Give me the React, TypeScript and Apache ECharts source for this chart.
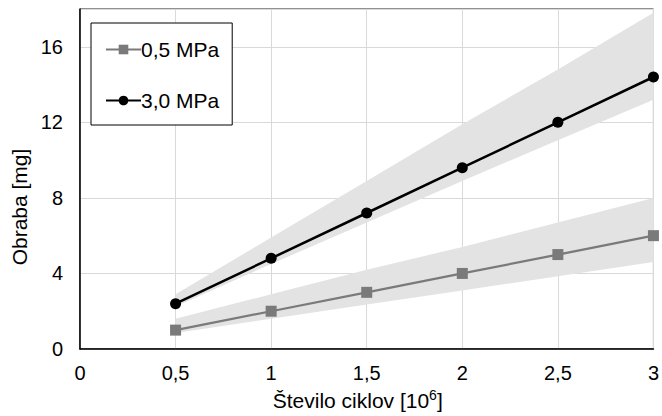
import React, { useEffect, useRef } from "react";
import * as echarts from "echarts";

const cycles = [0.5, 1, 1.5, 2, 2.5, 3];
const wear05 = [1, 2, 3, 4, 5, 6];
const wear30 = [2.4, 4.8, 7.2, 9.6, 12.0, 14.4];
const band05Low = [0.85, 1.6, 2.35, 3.1, 3.85, 4.6];
const band05High = [1.6, 2.9, 4.2, 5.4, 6.7, 8.0];
const band30Low = [2.25, 4.5, 6.7, 8.9, 11.05, 13.2];
const band30High = [2.9, 5.9, 8.9, 11.9, 14.8, 17.8];
const yTicks = [0, 4, 8, 12, 16];

const FONT = "'Liberation Sans', Arial, sans-serif";
const GRAY = "#7a7a7a";
const BAND = "#e3e3e3";

const pairs = (ys: number[]) => cycles.map((x, i) => [x, ys[i]]);

export default function App() {
  const ref = useRef<HTMLDivElement>(null);
  useEffect(() => {
    if (!ref.current) return;
    document.body.style.margin = "0";
    const chart = echarts.init(ref.current, null, { renderer: "svg" });
    const bandSeries = (lo: number[], hi: number[]) => ({
      type: "custom",
      silent: true,
      z: 1,
      data: cycles.map((x, i) => [x, lo[i], hi[i]]),
      encode: { x: 0, y: [1, 2] },
      renderItem: (params: any, api: any) => {
        if (params.dataIndex !== 0) return null;
        const top = cycles.map((x, i) => api.coord([x, hi[i]]));
        const bottom = cycles.map((x, i) => api.coord([x, lo[i]])).reverse();
        return {
          type: "polygon",
          shape: { points: top.concat(bottom) },
          style: { fill: BAND, stroke: "none" },
        };
      },
    });
    chart.setOption({
      animation: false,
      textStyle: { fontFamily: FONT },
      grid: {
        left: 80,
        right: 5,
        top: 9,
        bottom: 67,
        show: true,
        borderColor: "#222",
        borderWidth: 1,
      },
      legend: {
        orient: "vertical",
        left: 91,
        top: 23,
        padding: [16, 13, 14, 14],
        itemGap: 30,
        itemWidth: 35,
        itemHeight: 12,
        borderColor: "#000",
        borderWidth: 1,
        backgroundColor: "#fff",
        data: ["0,5 MPa", "3,0 MPa"],
        textStyle: { fontFamily: FONT, fontSize: 21, color: "#000", padding: [0, 0, 0, -5] },
      },
      xAxis: {
        type: "value",
        min: 0,
        max: 3,
        interval: 0.5,
        name: "{a|Število ciklov [10}{b|6}{a|]}",
        nameLocation: "middle",
        nameGap: 39,
        nameTextStyle: {
          padding: [0, 18, 0, 0],
          rich: {
            a: { fontFamily: FONT, fontSize: 21, color: "#000" },
            b: { fontFamily: FONT, fontSize: 14, color: "#000", padding: [0, 0, 10, 0] },
          },
        },
        axisLine: { show: true, lineStyle: { color: "#000", width: 1.5 } },
        axisTick: { show: false },
        axisLabel: {
          margin: 14,
          fontSize: 20,
          color: "#000",
          fontFamily: FONT,
          formatter: (v: number) => String(v).replace(".", ","),
        },
        splitLine: { show: true, lineStyle: { color: "#d9d9d9", width: 1 } },
      },
      yAxis: {
        type: "value",
        min: 0,
        max: 18,
        interval: 4,
        name: "Obraba [mg]",
        nameLocation: "middle",
        nameGap: 47,
        nameTextStyle: { fontFamily: FONT, fontSize: 21, color: "#000", padding: [0, 56, 0, 0] },
        axisLine: { show: true, lineStyle: { color: "#000", width: 1.5 } },
        axisTick: { show: false },
        axisLabel: {
          margin: 17,
          fontSize: 20,
          color: "#000",
          fontFamily: FONT,
          formatter: (v: number) => (yTicks.includes(v) ? String(v) : ""),
        },
        splitLine: { show: true, lineStyle: { color: "#d9d9d9", width: 1 } },
      },
      series: [
        bandSeries(band05Low, band05High),
        bandSeries(band30Low, band30High),
        {
          name: "0,5 MPa",
          type: "line",
          data: pairs(wear05),
          symbol: "rect",
          symbolSize: 11,
          itemStyle: { color: GRAY },
          lineStyle: { color: GRAY, width: 2.2 },
          z: 5,
        },
        {
          name: "3,0 MPa",
          type: "line",
          data: pairs(wear30),
          symbol: "circle",
          symbolSize: 11,
          itemStyle: { color: "#000" },
          lineStyle: { color: "#000", width: 2.5 },
          z: 6,
        },
      ],
    });
    return () => chart.dispose();
  }, []);
  return <div ref={ref} style={{ width: 662, height: 416 }} />;
}
